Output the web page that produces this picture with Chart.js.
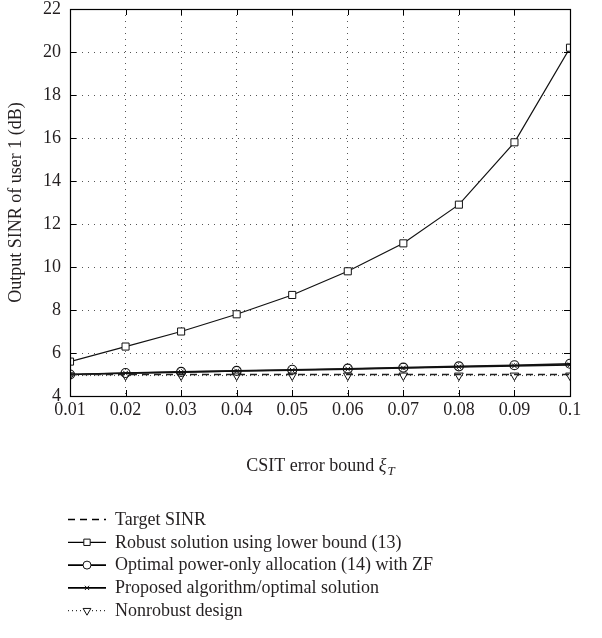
<!DOCTYPE html>
<html>
<head>
<meta charset="utf-8">
<script src="https://cdn.jsdelivr.net/npm/chart.js@4"></script>
<style>
  html, body { margin: 0; padding: 0; background: #fff; }
  #wrap { width: 602px; height: 638px; }
</style>
</head>
<body>
<div id="wrap"><canvas id="chart" width="602" height="638"></canvas></div>
<script>
// x values (CSIT error bound) and series
const xValues = [0.01, 0.02, 0.03, 0.04, 0.05, 0.06, 0.07, 0.08, 0.09, 0.1];
const xTickLabels = ['0.01', '0.02', '0.03', '0.04', '0.05', '0.06', '0.07', '0.08', '0.09', '0.1'];
const yTicks = [4, 6, 8, 10, 12, 14, 16, 18, 20, 22];

const targetSinr = [5, 5, 5, 5, 5, 5, 5, 5, 5, 5];
const robustLower = [5.6, 6.3, 7.0, 7.8, 8.7, 9.8, 11.1, 12.9, 15.8, 20.2];
const optimalPowerZF = [5.0, 5.07, 5.12, 5.17, 5.22, 5.27, 5.32, 5.38, 5.43, 5.5];
const proposedOptimal = [5.0, 5.06, 5.11, 5.16, 5.2, 5.25, 5.3, 5.35, 5.4, 5.45];
const nonrobust = [4.95, 4.95, 4.95, 4.95, 4.95, 4.95, 4.95, 4.95, 4.95, 4.95];

const labels = [
    'Target SINR',
    'Robust solution using lower bound (13)',
    'Optimal power-only allocation (14) with ZF',
    'Proposed algorithm/optimal solution',
    'Nonrobust design'
];

const serif = "'Liberation Serif', 'DejaVu Serif', serif";
const textColor = '#231f20';

function pts(arr) {
    return xValues.map((x, i) => ({ x: x, y: arr[i] }));
}

// inward ticks, solid frame, x title and the legend under the plot
const decorPlugin = {
    id: 'decor',
    afterDraw(chart) {
        const ctx = chart.ctx;
        const a = chart.chartArea;
        const xs = chart.scales.x, ys = chart.scales.y;
        ctx.save();
        ctx.strokeStyle = '#000';
        ctx.lineWidth = 1;
        ctx.setLineDash([]);
        ctx.beginPath();
        xValues.forEach((v) => {
            const px = Math.round(xs.getPixelForValue(v)) + 0.5;
            ctx.moveTo(px, a.bottom); ctx.lineTo(px, a.bottom - 6);
            ctx.moveTo(px, a.top); ctx.lineTo(px, a.top + 6);
        });
        yTicks.forEach((v) => {
            const py = Math.round(ys.getPixelForValue(v)) + 0.5;
            ctx.moveTo(a.left, py); ctx.lineTo(a.left + 6, py);
            ctx.moveTo(a.right, py); ctx.lineTo(a.right - 6, py);
        });
        ctx.stroke();
        ctx.lineWidth = 1.2;
        ctx.strokeRect(Math.round(a.left) + 0.5, Math.round(a.top) + 0.5,
            Math.round(a.right - a.left), Math.round(a.bottom - a.top));

        // x axis title with italic xi and subscript T
        ctx.fillStyle = textColor;
        ctx.textBaseline = 'alphabetic';
        const base = 'CSIT error bound ';
        ctx.font = '18px ' + serif;
        const w1 = ctx.measureText(base).width;
        ctx.font = 'italic 18px ' + serif;
        const w2 = ctx.measureText('\u03BE').width;
        ctx.font = 'italic 13px ' + serif;
        const w3 = ctx.measureText('T').width;
        let tx = (a.left + a.right) / 2 - (w1 + w2 + w3) / 2;
        const ty = 471;
        ctx.font = '18px ' + serif;
        ctx.fillText(base, tx, ty);
        ctx.font = 'italic 18px ' + serif;
        ctx.fillText('\u03BE', tx + w1, ty);
        ctx.font = 'italic 13px ' + serif;
        ctx.fillText('T', tx + w1 + w2 + 1, ty + 4);

        // legend
        const x0 = 68, x1 = 106, textX = 115;
        let ly = 519;
        chart.data.datasets.forEach((ds) => {
            ctx.strokeStyle = '#000';
            ctx.lineWidth = ds.borderWidth;
            ctx.setLineDash(ds.borderDash || []);
            ctx.beginPath();
            ctx.moveTo(x0, ly + 0.5);
            ctx.lineTo(x1, ly + 0.5);
            ctx.stroke();
            ctx.setLineDash([]);
            if (ds.pointRadius > 0) {
                ctx.fillStyle = '#fff';
                ctx.strokeStyle = '#111';
                ctx.lineWidth = 1;
                Chart.helpers.drawPoint(ctx, {
                    pointStyle: ds.pointStyle,
                    radius: ds.pointRadius - 0.5,
                    rotation: ds.pointRotation || 0,
                    borderWidth: 1
                }, (x0 + x1) / 2, ly + 0.5);
            }
            ctx.fillStyle = textColor;
            ctx.font = '18px ' + serif;
            ctx.textBaseline = 'middle';
            ctx.fillText(ds.label, textX, ly + 1);
            ly += 22.8;
        });
        ctx.restore();
    }
};

const chart = new Chart(document.getElementById('chart'), {
    type: 'line',
    data: {
        datasets: [
            {
                label: labels[0],
                data: pts(targetSinr),
                borderColor: '#222',
                borderWidth: 1.6,
                borderDash: [7, 5],
                pointRadius: 0
            },
            {
                label: labels[1],
                data: pts(robustLower),
                borderColor: '#111',
                borderWidth: 1.2,
                pointStyle: 'rect',
                pointRadius: 5,
                pointBackgroundColor: '#fff',
                pointBorderColor: '#111',
                pointBorderWidth: 1
            },
            {
                label: labels[2],
                data: pts(optimalPowerZF),
                borderColor: '#111',
                borderWidth: 1.6,
                pointStyle: 'circle',
                pointRadius: 4.5,
                pointBackgroundColor: 'rgba(255,255,255,0)',
                pointBorderColor: '#111',
                pointBorderWidth: 1.2
            },
            {
                label: labels[3],
                data: pts(proposedOptimal),
                borderColor: '#111',
                borderWidth: 1.6,
                pointStyle: 'crossRot',
                pointRadius: 3.5,
                pointBorderColor: '#111',
                pointBorderWidth: 1
            },
            {
                label: labels[4],
                data: pts(nonrobust),
                borderColor: '#444',
                borderWidth: 1,
                borderDash: [1, 3],
                pointStyle: 'triangle',
                pointRotation: 180,
                pointRadius: 5,
                pointBackgroundColor: '#fff',
                pointBorderColor: '#111',
                pointBorderWidth: 1
            }
        ]
    },
    options: {
        responsive: false,
        animation: false,
        layout: { padding: { left: 0, right: 32, top: 9, bottom: 162 } },
        plugins: {
            legend: { display: false },
            tooltip: { enabled: false }
        },
        scales: {
            x: {
                type: 'linear',
                min: 0.01,
                max: 0.1,
                afterBuildTicks: (scale) => {
                    scale.ticks = xValues.map((v) => ({ value: v }));
                },
                afterFit: (scale) => {
                    scale.height = 80;
                    scale.paddingLeft = 0;
                    scale.paddingRight = 0;
                },
                ticks: {
                    color: textColor,
                    font: { family: serif, size: 18 },
                    padding: 3,
                    maxRotation: 0,
                    autoSkip: false,
                    callback: (v, i) => xTickLabels[i]
                },
                grid: { color: '#555', lineWidth: 1, tickLength: 0 },
                border: { display: false, dash: [1, 5] }
            },
            y: {
                type: 'linear',
                min: 4,
                max: 22,
                afterBuildTicks: (scale) => {
                    scale.ticks = yTicks.map((v) => ({ value: v }));
                },
                afterFit: (scale) => {
                    scale.width = 70;
                    scale.paddingTop = 0;
                    scale.paddingBottom = 0;
                },
                ticks: {
                    color: textColor,
                    font: { family: serif, size: 18 },
                    padding: 9
                },
                title: {
                    display: true,
                    text: 'Output SINR of user 1 (dB)',
                    color: textColor,
                    font: { family: serif, size: 18 },
                    padding: { top: 5, bottom: 0 }
                },
                grid: { color: '#555', lineWidth: 1, tickLength: 0 },
                border: { display: false, dash: [1, 5] }
            }
        }
    },
    plugins: [decorPlugin]
});
</script>
</body>
</html>
